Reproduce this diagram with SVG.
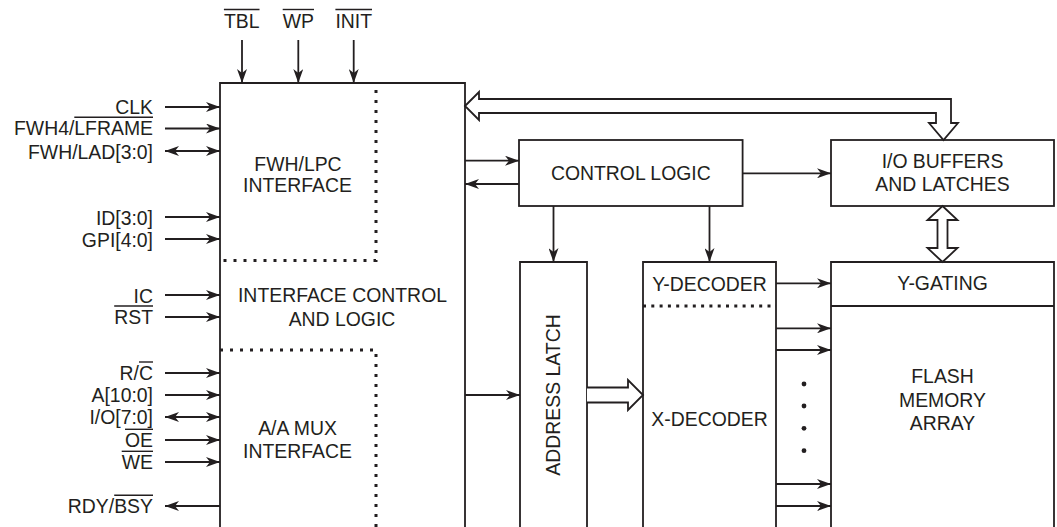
<svg xmlns="http://www.w3.org/2000/svg" width="1057" height="527" viewBox="0 0 1057 527">
<style>
  text { font-family: "Liberation Sans", Arial, sans-serif; font-size: 19.4px; fill: #231f20; }
  .r { text-anchor: end; }
  .m { text-anchor: middle; }
  .box { fill: none; stroke: #231f20; stroke-width: 1.8; }
  .ln { fill: none; stroke: #231f20; stroke-width: 1.8; }
  .ov { stroke: #231f20; stroke-width: 1.4; }
  .arr { fill: none; stroke: #231f20; stroke-width: 1.8; marker-end: url(#ah); }
  .bi { fill: none; stroke: #231f20; stroke-width: 1.8; marker-end: url(#ah); marker-start: url(#ah); }
  .dot { fill: none; stroke: #231f20; stroke-width: 3; stroke-dasharray: 3 7; }
  .dot2 { fill: none; stroke: #231f20; stroke-width: 3; stroke-dasharray: 3 5.3; }
  .hollow { fill: #fff; stroke: #231f20; stroke-width: 1.8; stroke-linejoin: miter; }
</style>
<defs>
  <marker id="ah" viewBox="0 0 14 10" refX="14" refY="5" markerWidth="14" markerHeight="10" markerUnits="userSpaceOnUse" orient="auto-start-reverse">
    <path d="M0,0 L14,5 L0,10 L4,5 z" fill="#231f20"/>
  </marker>
</defs>

<g id="signals-top">
  <text class="m" x="241.7" y="28.3">TBL</text>
  <line class="ov" x1="223.9" y1="9.5" x2="259.5" y2="9.5"/>
  <text class="m" x="298.3" y="28.3">WP</text>
  <line class="ov" x1="282.7" y1="9.5" x2="314" y2="9.5"/>
  <text class="m" x="353.7" y="28.3">INIT</text>
  <line class="ov" x1="335.4" y1="9.5" x2="372" y2="9.5"/>
</g>

<g id="signals-left">
  <text class="r" x="153" y="113.5">CLK</text>
  <text class="r" x="153" y="135">FWH4/LFRAME</text>
  <line class="ov" x1="74.3" y1="117.3" x2="153" y2="117.3"/>
  <text class="r" x="153" y="158.5">FWH/LAD[3:0]</text>
  <text class="r" x="153" y="224.5">ID[3:0]</text>
  <text class="r" x="153" y="246.5">GPI[4:0]</text>
  <text class="r" x="153" y="302.5">IC</text>
  <text class="r" x="153" y="324">RST</text>
  <line class="ov" x1="114.2" y1="306" x2="153" y2="306"/>
  <text class="r" x="153" y="380">R/C</text>
  <line class="ov" x1="139" y1="362" x2="153" y2="362"/>
  <text class="r" x="153" y="402">A[10:0]</text>
  <text class="r" x="153" y="424">I/O[7:0]</text>
  <text class="r" x="153" y="447">OE</text>
  <line class="ov" x1="125" y1="429.3" x2="153" y2="429.3"/>
  <text class="r" x="153" y="469">WE</text>
  <line class="ov" x1="121.7" y1="451.3" x2="153" y2="451.3"/>
  <text class="r" x="153" y="513">RDY/BSY</text>
  <line class="ov" x1="114.2" y1="495.3" x2="153" y2="495.3"/>
</g>

<g id="interface-block">
  <path class="box" d="M220,540 V83 H465 V540"/>
  <path class="dot" d="M376,90 V260.5 H220"/>
  <path class="dot" d="M220,350 H376 V540"/>
  <text class="m" x="298" y="170.7">FWH/LPC</text>
  <text class="m" x="297.5" y="192.3">INTERFACE</text>
  <text class="m" x="342.5" y="302.3">INTERFACE CONTROL</text>
  <text class="m" x="342" y="325.7">AND LOGIC</text>
  <text class="m" x="297.5" y="435">A/A MUX</text>
  <text class="m" x="297.5" y="458.3">INTERFACE</text>
</g>

<g id="control-logic">
  <rect class="box" x="519" y="140" width="223.6" height="66"/>
  <text class="m" x="630.8" y="180">CONTROL LOGIC</text>
</g>

<g id="io-buffers">
  <rect class="box" x="831" y="140" width="223" height="66"/>
  <text class="m" x="942.5" y="168">I/O BUFFERS</text>
  <text class="m" x="942.5" y="191">AND LATCHES</text>
</g>

<g id="address-latch">
  <path class="box" d="M520,540 V262 H587 V540"/>
  <text class="m" transform="translate(553.5,395) rotate(-90)" x="0" y="6.9">ADDRESS LATCH</text>
</g>

<g id="decoder">
  <path class="box" d="M643,540 V262 H776 V540"/>
  <path class="dot2" d="M643,306 H776"/>
  <text class="m" x="709.5" y="290.7">Y-DECODER</text>
  <text class="m" x="709.5" y="426">X-DECODER</text>
</g>

<g id="flash-array">
  <path class="box" d="M831,540 V262 H1054 V540"/>
  <line class="ln" x1="831" y1="306" x2="1054" y2="306"/>
  <text class="m" x="942.5" y="290">Y-GATING</text>
  <text class="m" x="942.5" y="383.3">FLASH</text>
  <text class="m" x="942.5" y="407.3">MEMORY</text>
  <text class="m" x="942.5" y="430">ARRAY</text>
</g>

<g id="connectors">
  <line class="arr" x1="242" y1="40" x2="242" y2="83"/>
  <line class="arr" x1="298.3" y1="40" x2="298.3" y2="83"/>
  <line class="arr" x1="353.7" y1="40" x2="353.7" y2="83"/>
  <line class="arr" x1="165" y1="107" x2="220" y2="107"/>
  <line class="arr" x1="165" y1="128.5" x2="220" y2="128.5"/>
  <line class="bi" x1="165" y1="151" x2="220" y2="151"/>
  <line class="arr" x1="165" y1="217" x2="220" y2="217"/>
  <line class="arr" x1="165" y1="239" x2="220" y2="239"/>
  <line class="arr" x1="165" y1="295" x2="220" y2="295"/>
  <line class="arr" x1="165" y1="317" x2="220" y2="317"/>
  <line class="arr" x1="165" y1="373" x2="220" y2="373"/>
  <line class="arr" x1="165" y1="395" x2="220" y2="395"/>
  <line class="bi" x1="165" y1="417" x2="220" y2="417"/>
  <line class="arr" x1="165" y1="440" x2="220" y2="440"/>
  <line class="arr" x1="165" y1="462" x2="220" y2="462"/>
  <line class="arr" x1="220" y1="506" x2="165" y2="506"/>
  <line class="arr" x1="465" y1="160.7" x2="519" y2="160.7"/>
  <line class="arr" x1="519" y1="184" x2="465" y2="184"/>
  <line class="arr" x1="465" y1="395" x2="520" y2="395"/>
  <line class="arr" x1="742.6" y1="173.3" x2="831" y2="173.3"/>
  <line class="arr" x1="553.5" y1="206" x2="553.5" y2="262"/>
  <line class="arr" x1="709.5" y1="206" x2="709.5" y2="262"/>
  <line class="arr" x1="776" y1="283.3" x2="831" y2="283.3"/>
  <line class="arr" x1="776" y1="328.3" x2="831" y2="328.3"/>
  <line class="arr" x1="776" y1="350" x2="831" y2="350"/>
  <line class="arr" x1="776" y1="484" x2="831" y2="484"/>
  <line class="arr" x1="776" y1="506" x2="831" y2="506"/>
  <circle cx="804" cy="384" r="2.4" fill="#231f20"/>
  <circle cx="804" cy="406" r="2.4" fill="#231f20"/>
  <circle cx="804" cy="428.3" r="2.4" fill="#231f20"/>
  <circle cx="804" cy="450.7" r="2.4" fill="#231f20"/>
  <path class="hollow" d="M465,106 L479,92 L479,99 L951,99 L951,123 L958,123 L943.5,140 L929,123 L936,123 L936,113 L479,113 L479,120 Z"/>
  <path class="hollow" d="M942.5,206 L957.5,220 L947.5,220 L947.5,248 L957.5,248 L942.5,262 L927.5,248 L937.5,248 L937.5,220 L927.5,220 Z"/>
  <path class="hollow" d="M587,387.5 L628,387.5 L628,380 L643,395 L628,410 L628,402.5 L587,402.5"/>
</g>
</svg>
